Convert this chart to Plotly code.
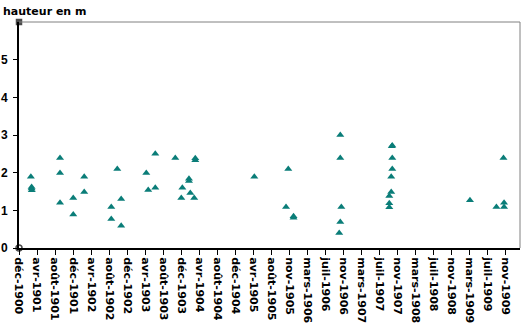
import datetime as dt
import plotly.graph_objects as go

# Water-level readings (date of reading, height in metres)
dates = [
    "1901-03-14", "1901-03-19", "1901-03-19", "1901-03-20",
    "1901-09-24", "1901-09-24", "1901-09-24",
    "1901-12-21", "1901-12-21",
    "1902-03-04", "1902-03-04",
    "1902-08-31", "1902-08-31", "1902-10-10", "1902-11-05", "1902-11-05",
    "1903-04-21", "1903-05-04", "1903-06-20", "1903-06-20",
    "1903-10-31", "1903-12-10", "1903-12-17",
    "1904-01-30", "1904-01-30", "1904-02-08", "1904-03-05", "1904-03-12", "1904-03-12",
    "1905-04-09",
    "1905-11-06", "1905-11-21", "1905-12-26", "1905-12-26",
    "1906-11-02", "1906-11-02", "1906-11-09", "1906-11-02", "1906-10-26",
    "1907-10-14", "1907-10-11", "1907-10-14", "1907-10-14", "1907-10-07",
    "1907-10-07", "1907-09-24", "1907-09-24", "1907-09-24",
    "1909-03-14",
    "1909-09-06", "1909-10-23", "1909-10-27", "1909-10-27",
]
heights = [
    1.89, 1.62, 1.58, 1.53,
    2.39, 1.99, 1.20,
    1.33, 0.89,
    1.89, 1.49,
    1.09, 0.77, 2.10, 1.30, 0.59,
    1.99, 1.54, 2.50, 1.60,
    2.39, 1.33, 1.60,
    1.84, 1.78, 1.46, 1.33, 2.38, 2.33,
    1.89,
    1.09, 2.10, 0.84, 0.80,
    3.00, 2.39, 1.09, 0.69, 0.40,
    2.72, 2.70, 2.39, 2.10, 1.89,
    1.49, 1.38, 1.19, 1.08,
    1.27,
    1.09, 2.39, 1.20, 1.09,
]

tick_labels = [
    "déc-1900", "avr-1901", "août-1901", "déc-1901", "avr-1902", "août-1902",
    "déc-1902", "avr-1903", "août-1903", "déc-1903", "avr-1904", "août-1904",
    "déc-1904", "avr-1905", "août-1905", "nov-1905", "mars-1906", "juil-1906",
    "nov-1906", "mars-1907", "juil-1907", "nov-1907", "mars-1908", "juil-1908",
    "nov-1908", "mars-1909", "juil-1909", "nov-1909",
]
y_tick_values = [0, 1, 2, 3, 4, 5]

# Date axis: one tick every 120 days from 25 Dec 1900
axis_start = dt.date(1900, 12, 25)
tick_step = dt.timedelta(days=120)
tick_dates = [axis_start + tick_step * i for i in range(len(tick_labels))]
axis_end = axis_start + dt.timedelta(days=3334)
y_max = 6

font_family = "DejaVu Sans"

fig = go.Figure()
fig.add_trace(go.Scatter(
    x=dates, y=heights, mode="markers",
    marker=dict(symbol="triangle-up", size=7, color="#0a7d78", line=dict(width=0)),
    showlegend=False, hoverinfo="x+y",
))
# axis end handles
fig.add_trace(go.Scatter(
    x=[axis_start, axis_start], y=[y_max, 0], mode="markers",
    marker=dict(symbol=["square", "circle-open"], size=[5, 6], color="black",
                line=dict(width=1.5, color="black")),
    cliponaxis=False, showlegend=False, hoverinfo="skip",
))

fig.update_layout(
    width=529, height=328,
    margin=dict(l=19, r=9, t=22, b=80, autoexpand=False),
    paper_bgcolor="white", plot_bgcolor="white",
    title=dict(text="hauteur en m", x=3 / 529, xref="container", xanchor="left",
               y=1 - 7 / 328, yref="container", yanchor="top",
               font=dict(family=font_family, size=11, color="black", weight="bold")),
    xaxis=dict(
        type="date", range=[axis_start, axis_end], automargin=False,
        tickmode="array", tickvals=tick_dates, ticktext=tick_labels,
        tickangle=90, ticks="outside", ticklen=5, tickwidth=1, tickcolor="black",
        showline=True, linecolor="black", linewidth=2,
        showgrid=False, zeroline=False,
        tickfont=dict(family=font_family, size=11, color="black", weight="bold"),
    ),
    yaxis=dict(
        range=[0, y_max], tickmode="array", tickvals=y_tick_values, automargin=False,
        ticks="outside", ticklen=4, tickwidth=1, tickcolor="black",
        showline=True, linecolor="black", linewidth=2,
        showgrid=False, zeroline=False,
        tickfont=dict(family="Liberation Sans", size=12, color="black", weight="bold"),
        ticklabelstandoff=3,
    ),
    shapes=[
        dict(type="line", xref="paper", yref="paper", x0=0, x1=1, y0=1, y1=1,
             line=dict(color="#808080", width=1)),
        dict(type="line", xref="paper", yref="paper", x0=1, x1=1, y0=0, y1=1,
             line=dict(color="#808080", width=1)),
    ],
)

fig.write_html("out.html")
